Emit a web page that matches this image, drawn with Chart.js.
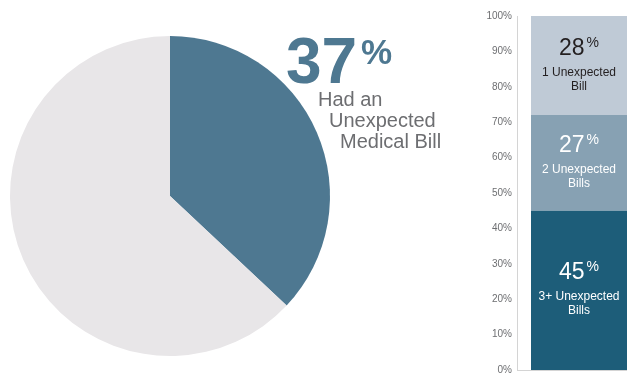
<!DOCTYPE html>
<html>
<head>
<meta charset="utf-8">
<script src="https://cdn.jsdelivr.net/npm/chart.js@4"></script>
<style>
  html, body { margin: 0; padding: 0; background: #fff; }
  body { width: 627px; height: 373px; overflow: hidden; position: relative; }
  #pie-box { position: absolute; left: 0; top: 0; width: 460px; height: 373px; }
  #bar-box { position: absolute; left: 460px; top: 0; width: 197px; height: 373px; }
</style>
</head>
<body>
<div id="pie-box"><canvas id="pie-chart"></canvas></div>
<div id="bar-box"><canvas id="bar-chart"></canvas></div>
<script>
// 円グラフ：予期せぬ医療費の請求があった人の割合
const pieLabels = ["Had an Unexpected Medical Bill", "Did not"];
const pieValues = [37, 63];
const pieColors = ["#4e7891", "#e8e6e8"];
const headlineLines = ["Had an", "Unexpected", "Medical Bill"];

// 積み上げ棒：請求の件数ごとの内訳（下から順）
const barCategories = ["3+ Unexpected Bills", "2 Unexpected Bills", "1 Unexpected Bill"];
const barValues = [45, 27, 28];
const barLabelLines = [
  ["3+ Unexpected", "Bills"],
  ["2 Unexpected", "Bills"],
  ["1 Unexpected", "Bill"],
];
const barColors = ["#1d5d79", "#87a1b3", "#bfcad6"];
const barTextColors = ["#ffffff", "#ffffff", "#231f20"];
const yTicks = [0, 10, 20, 30, 40, 50, 60, 70, 80, 90, 100];

const FONT = "'Liberation Sans', Arial, Helvetica, sans-serif";
const HIDDEN_RIGHT = 30; // 棒グラフのキャンバスのうち画面外にはみ出す幅

Chart.defaults.font.family = FONT;
Chart.defaults.animation = false;

/** 円グラフ横の大きな「37%」と説明文 */
const headlinePlugin = {
  id: "headline",
  afterDraw(chart) {
    const ctx = chart.ctx;
    ctx.save();
    ctx.textBaseline = "alphabetic";
    ctx.textAlign = "left";
    ctx.fillStyle = pieColors[0];
    ctx.font = "bold 64px " + FONT;
    ctx.fillText(String(pieValues[0]), 286, 83);
    ctx.font = "bold 35px " + FONT;
    ctx.fillText("%", 361, 64);

    ctx.fillStyle = "#6d6e71";
    ctx.font = "20px " + FONT;
    headlineLines.forEach((line, i) => {
      ctx.fillText(line, 318 + i * 11, 106 + i * 21);
    });
    ctx.restore();
  },
};

new Chart(document.getElementById("pie-chart"), {
  type: "pie",
  data: {
    labels: pieLabels,
    datasets: [{ data: pieValues, backgroundColor: pieColors, borderWidth: 0 }],
  },
  options: {
    responsive: true,
    maintainAspectRatio: false,
    layout: { padding: { left: 10, right: 130, top: 36, bottom: 17 } },
    plugins: { legend: { display: false }, tooltip: { enabled: false } },
  },
  plugins: [headlinePlugin],
});

/** 棒の各区間に「45%」などのラベルを描く */
const segmentLabelPlugin = {
  id: "segmentLabels",
  afterDatasetsDraw(chart) {
    const ctx = chart.ctx;
    ctx.save();
    chart.data.datasets.forEach((ds, i) => {
      const bar = chart.getDatasetMeta(i).data[0];
      const left = bar.x - bar.width / 2;
      const visRight = chart.width - HIDDEN_RIGHT;
      const cx = (left + visRight) / 2;
      const cy = (bar.y + bar.base) / 2;
      ctx.fillStyle = barTextColors[i];
      ctx.textBaseline = "alphabetic";

      const num = String(ds.data[0]);
      ctx.font = "23px " + FONT;
      const nw = ctx.measureText(num).width;
      ctx.font = "14px " + FONT;
      const pw = ctx.measureText("%").width;
      const start = cx - (nw + pw + 2) / 2;
      ctx.textAlign = "left";
      ctx.font = "23px " + FONT;
      ctx.fillText(num, start, cy - 11);
      ctx.font = "14px " + FONT;
      ctx.fillText("%", start + nw + 2, cy - 19);

      ctx.textAlign = "center";
      ctx.font = "12px " + FONT;
      barLabelLines[i].forEach((line, j) => {
        ctx.fillText(line, cx, cy + 10 + j * 14);
      });
    });
    ctx.restore();
  },
};

new Chart(document.getElementById("bar-chart"), {
  type: "bar",
  data: {
    labels: [""],
    datasets: barCategories.map((name, i) => ({
      label: name,
      data: [barValues[i]],
      backgroundColor: barColors[i],
      borderWidth: 0,
      barPercentage: 0.8,
      categoryPercentage: 1,
    })),
  },
  options: {
    responsive: true,
    maintainAspectRatio: false,
    layout: { padding: { top: 16, bottom: 3, left: 0, right: 0 } },
    plugins: { legend: { display: false }, tooltip: { enabled: false } },
    scales: {
      x: {
        stacked: true,
        ticks: { display: false },
        grid: { display: false, drawTicks: false },
        border: { display: true, color: "#d4d4d4", width: 1 },
        afterFit(scale) {
          scale.height = 0;
          scale.paddingLeft = 0;
          scale.paddingRight = 0;
        },
      },
      y: {
        stacked: true,
        min: 0,
        max: 100,
        afterFit(scale) {
          scale.width = 57;
          scale.paddingTop = 0;
          scale.paddingBottom = 0;
        },
        afterBuildTicks(scale) {
          scale.ticks = yTicks.map((v) => ({ value: v }));
        },
        ticks: {
          callback: (v) => v + "%",
          color: "#6d6e71",
          font: { size: 10 },
          padding: 5,
        },
        grid: { display: false, drawTicks: false, tickLength: 0 },
        border: { display: true, color: "#d4d4d4", width: 1 },
      },
    },
  },
  plugins: [segmentLabelPlugin],
});
</script>
</body>
</html>
